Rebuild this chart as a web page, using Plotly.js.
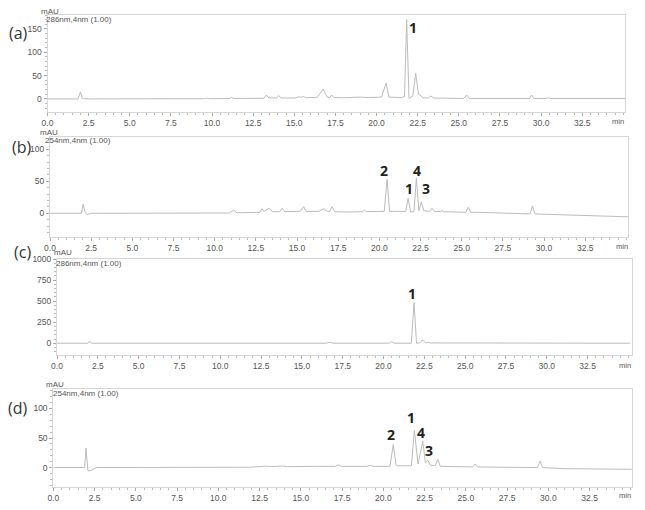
<!DOCTYPE html>
<html><head><meta charset="utf-8">
<script src="https://cdn.plot.ly/plotly-3.0.1.min.js"></script>
<style>html,body{margin:0;padding:0;background:#fff}#chart{width:645px;height:510px}</style>
</head><body><div id="chart"></div>
<script>
// Panel (a) 286nm
const timeA = [0,1.85,2.0,2.12,2.5,3.6,3.7,3.8,4.1,4.2,4.3,6.2,6.3,6.4,8.3,8.4,8.5,9.6,9.7,9.8,11.1,11.2,11.3,12.5,13.15,13.3,13.45,13.9,14.05,14.2,15.1,15.3,15.4,15.55,15.7,16.4,16.75,17.0,17.15,17.27,17.4,18.0,19.0,19.5,20.3,20.58,20.75,21.5,21.7,21.83,21.97,22.2,22.38,22.55,22.65,22.8,23.15,23.3,23.45,25.3,25.48,25.65,29.3,29.43,29.56,30.35,30.45,30.55,35.1];
const signalA = [0,0,15,0.5,0,0,1.5,0,0,1.5,0,0,1.5,0,0,1.5,0,0.5,2,0.5,1,3.5,1,1.5,1.5,8.5,2,2,7,2,2,5,3,5.5,2.5,3.5,21,4,3,8.5,3,2.5,4,3,4,34,4,3,5,170,1.5,6,55,10,8.5,2.5,2,6.5,2,1,8.5,1,1,8.5,1,1,3,1,1];
// Panel (b) 254nm
const timeB = [0,1.9,2.02,2.12,2.25,2.5,10.9,11.15,11.35,12.5,12.75,12.87,13.0,13.3,13.5,13.95,14.1,14.25,15.0,15.2,15.4,15.55,16.3,16.65,16.85,17.0,17.12,17.3,18.0,19.0,19.1,19.2,20.3,20.47,20.62,21.6,21.75,21.9,22.1,22.25,22.4,22.55,22.7,23.05,23.2,23.35,23.7,23.8,23.9,25.25,25.4,25.55,26.0,29.15,29.3,29.45,30.0,33.0,35.1];
const signalB = [0,0,14,2,-2,0,0.5,5,0.8,1.5,1.5,7,3,7.8,2.5,2.5,7.8,2.5,2,3,10.4,3,3,7,3,3,10.4,2.5,2,2.5,5,2.5,3,53,3,3,23.4,2,2.5,54.7,4,18,4,3,7.8,3,2.5,4,2.5,1.5,9.4,1.5,1.5,-1,11.4,-1,-1.5,-4,-5.5];
// Panel (c) 286nm
const timeC = [0,1.9,2.0,2.1,16.5,16.7,16.9,20.35,20.5,20.65,21.7,21.87,22.02,22.25,22.4,22.55,22.65,22.75,22.85,23.2,23.3,23.4,35.1];
const signalC = [0,0,25,0,0,12,0,0,18,0,0,483,0,5,40,5,5,12,3,3,8,0,0];
// Panel (d) 254nm
const timeD = [0,1.9,1.98,2.1,2.3,2.6,12.0,12.9,13.2,13.9,14.2,15.3,16.0,17.1,17.27,17.45,19.0,19.2,19.4,20.4,20.6,20.78,21.7,21.88,22.1,22.39,22.55,22.7,22.85,23.15,23.3,23.45,25.4,25.56,25.7,29.0,29.35,29.5,29.65,31.0,33.0,35.1];
const signalD = [0,0,33,-5.8,-5,0,0.5,2.5,1.5,2.5,1.5,2.5,2,2,4.5,2,2,3.5,2,2,39,3,3,63,6,44.5,8,12.4,4,3,14,2,1,6,1,0,0,10.7,0,-2,-3,-3];

// Peak labels
const peakTextA = ['1']; const peakXA = [22.24]; const peakYA = [154];
const peakTextB = ['2','1','4','3']; const peakXB = [20.27,21.8,22.3,22.84]; const peakYB = [66.6,39,66.6,39];
const peakTextC = ['1']; const peakXC = [21.75]; const peakYC = [595];
const peakTextD = ['2','1','4','3']; const peakXD = [20.45,21.68,22.28,22.77]; const peakYD = [56,84,59,29];

// Tick values
const xTickVals = [0,2.5,5,7.5,10,12.5,15,17.5,20,22.5,25,27.5,30,32.5];
const yTickA = [0,50,100,150];
const yTickB = [0,50,100];
const yTickC = [0,250,500,750,1000];
const yTickD = [0,50,100];

const panelLetters = ['(a)','(b)','(c)','(d)'];
const wavelengths = ['286nm,4nm (1.00)','254nm,4nm (1.00)','286nm,4nm (1.00)','254nm,4nm (1.00)'];
const unitLabel = 'mAU';
const timeUnit = 'min';

const W = 645, H = 510;
const px = v => v / W, py = v => 1 - v / H;
const boxes = [[47.5,625,15,112],[50,628,137,237],[57,631.7,259,355],[53.3,631.7,389,487]];
const yRanges = [[-28,180],[-37,119],[-140,1000],[-33,133]];
const yTicks = [yTickA,yTickB,yTickC,yTickD];
const yMinor = [10,10,50,10];
const xRanges = [[0,35.1],[0,35.1],[0,35.2],[0,35.05]];

const lineColor = '#bcbcbc';
const frameColor = '#d6d6d6';
const tickFont = {family:'Liberation Sans, Arial, sans-serif', size:8.5, color:'#555'};
const smallFont = {family:'Liberation Sans, Arial, sans-serif', size:8, color:'#555'};

const times = [timeA,timeB,timeC,timeD];
const sigs = [signalA,signalB,signalC,signalD];
const traces = [];
const layout = {width:W,height:H,margin:{l:0,r:0,t:0,b:0},paper_bgcolor:'#fff',plot_bgcolor:'#fff',showlegend:false,annotations:[]};

for (let i=0;i<4;i++){
  const sx = i===0?'':String(i+1);
  traces.push({x:times[i],y:sigs[i],type:'scatter',mode:'lines',line:{color:lineColor,width:1},xaxis:'x'+sx,yaxis:'y'+sx,hoverinfo:'skip'});
  const b = boxes[i];
  layout['xaxis'+sx] = {domain:[px(b[0]),px(b[1])],range:xRanges[i],anchor:'y'+sx,tickmode:'array',tickvals:xTickVals,
    ticktext:xTickVals.map(v=>v.toFixed(1)),
    ticks:'outside',ticklen:3,tickcolor:'#aaa',tickfont:tickFont,showgrid:false,zeroline:false,
    showline:true,linecolor:frameColor,linewidth:1,mirror:true,
    minor:{dtick:0.5,tick0:0,ticks:'outside',ticklen:2,tickcolor:'#bbb',showgrid:false}};
  layout['yaxis'+sx] = {domain:[py(b[3]),py(b[2])],range:yRanges[i],anchor:'x'+sx,tickmode:'array',tickvals:yTicks[i],
    ticks:'outside',ticklen:3,tickcolor:'#aaa',tickfont:tickFont,showgrid:false,zeroline:false,
    showline:true,linecolor:frameColor,linewidth:1,mirror:true,
    minor:{dtick:yMinor[i],tick0:0,ticks:'outside',ticklen:2,tickcolor:'#bbb',showgrid:false}};
}

const letterPos = [[18,33],[22,147],[22,252],[18,408]];
const mauPos = [[49.5,11],[48.5,133],[63,252],[55,384]];
const wavePos = [[45,20],[44,140],[55,263.5],[52,393]];
const minPos = [[617.7,121],[621.7,246],[625,365],[625,495]];
for (let i=0;i<4;i++){
  layout.annotations.push({xref:'paper',yref:'paper',x:px(letterPos[i][0]),y:py(letterPos[i][1]),text:panelLetters[i],showarrow:false,xanchor:'center',yanchor:'middle',font:{family:'Open Sans, Liberation Sans, sans-serif',size:16,color:'#333'}});
  layout.annotations.push({xref:'paper',yref:'paper',x:px(mauPos[i][0]),y:py(mauPos[i][1]),text:unitLabel,showarrow:false,xanchor:'center',yanchor:'middle',font:smallFont,borderpad:0});
  layout.annotations.push({xref:'paper',yref:'paper',x:px(wavePos[i][0]),y:py(wavePos[i][1]),text:wavelengths[i],showarrow:false,xanchor:'left',yanchor:'middle',font:smallFont,borderpad:0});
  layout.annotations.push({xref:'paper',yref:'paper',x:px(minPos[i][0]),y:py(minPos[i][1]),text:timeUnit,showarrow:false,xanchor:'center',yanchor:'middle',font:{family:'Liberation Sans, Arial, sans-serif',size:7.5,color:'#555'},borderpad:0});
}
const peakSets = [[peakTextA,peakXA,peakYA],[peakTextB,peakXB,peakYB],[peakTextC,peakXC,peakYC],[peakTextD,peakXD,peakYD]];
peakSets.forEach((s,i)=>{
  const sx = i===0?'':String(i+1);
  s[0].forEach((t,j)=>{
    layout.annotations.push({xref:'x'+sx,yref:'y'+sx,x:s[1][j],y:s[2][j],text:'<b>'+t+'</b>',showarrow:false,xanchor:'center',yanchor:'middle',font:{family:'Open Sans, Liberation Sans, sans-serif',size:14,color:'#222'}});
  });
});
Plotly.newPlot('chart',traces,layout,{displayModeBar:false,staticPlot:true});
</script></body></html>
